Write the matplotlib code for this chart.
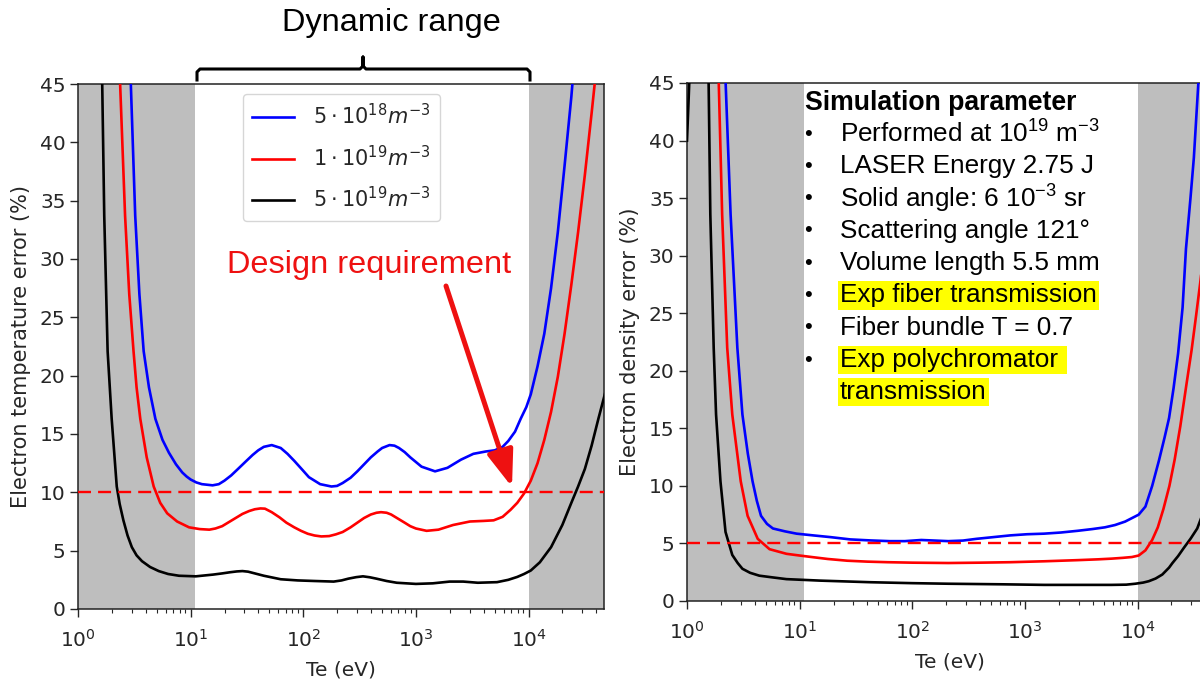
import numpy as np
import matplotlib
matplotlib.use("Agg")
import matplotlib.pyplot as plt
from matplotlib.patches import FancyArrowPatch
from matplotlib.lines import Line2D

plt.rcParams['mathtext.rm'] = 'Liberation Sans'
plt.rcParams['mathtext.it'] = 'Liberation Sans:italic'
plt.rcParams['mathtext.bf'] = 'Liberation Sans:bold'

# ---------------- data (log10 of Te in eV, error in %) ----------------
legend_labels = [r'$5\cdot10^{18}m^{-3}$', r'$1\cdot10^{19}m^{-3}$', r'$5\cdot10^{19}m^{-3}$']
series_colors = ['blue', 'red', 'black']

# Left panel: electron temperature error
te_blue_T = [0.42, 0.469, 0.508, 0.545, 0.583, 0.63, 0.687, 0.75, 0.807, 0.87, 0.926, 0.965, 1.0, 1.05,
             1.1, 1.195, 1.25, 1.3, 1.36, 1.42, 1.49, 1.55, 1.60, 1.65, 1.72, 1.80, 1.86, 1.92, 1.99,
             2.05, 2.15, 2.25, 2.30, 2.35, 2.42, 2.48, 2.54, 2.6, 2.66, 2.7, 2.766, 2.81, 2.85, 2.90,
             2.95, 3.05, 3.17, 3.28, 3.40, 3.51, 3.62, 3.70, 3.77, 3.82, 3.88, 3.93, 3.98, 4.02,
             4.08, 4.14, 4.20, 4.26, 4.32, 4.38, 4.45]
err_blue_T = [55, 45, 33.7, 27, 22.1, 19, 16.3, 14.5, 13.4, 12.4, 11.7, 11.35, 11.1, 10.85,
              10.7, 10.6, 10.7, 11.0, 11.45, 12.0, 12.65, 13.2, 13.6, 13.9, 14.05, 13.8, 13.3, 12.7, 11.95,
              11.3, 10.7, 10.5, 10.55, 10.8, 11.25, 11.8, 12.4, 13.0, 13.5, 13.8, 14.05, 14.0, 13.8, 13.45,
              13.0, 12.2, 11.8, 12.1, 12.8, 13.3, 13.5, 13.6, 13.9, 14.4, 15.2, 16.3, 17.3, 18.4,
              20.8, 23.6, 27.5, 32.3, 38, 43.9, 52]

te_red_T = [0.33, 0.374, 0.418, 0.455, 0.493, 0.52, 0.553, 0.61, 0.672, 0.73, 0.792, 0.88, 0.986, 1.08,
            1.166, 1.22, 1.28, 1.34, 1.40, 1.46, 1.52, 1.57, 1.62, 1.66, 1.72, 1.79, 1.85, 1.92, 1.98,
            2.04, 2.1, 2.16, 2.23, 2.29, 2.35, 2.42, 2.48, 2.54, 2.6, 2.65, 2.69, 2.74, 2.78, 2.84,
            2.9, 2.95, 3.0, 3.095, 3.2, 3.33, 3.48, 3.6, 3.69, 3.77, 3.84, 3.90, 3.96, 4.02, 4.08,
            4.14, 4.20, 4.26, 4.32, 4.38, 4.44, 4.50, 4.56, 4.62]
err_red_T = [56, 45, 33.7, 27, 22.1, 19, 16.3, 13, 10.5, 9.1, 8.2, 7.5, 7.0, 6.85,
             6.8, 6.9, 7.1, 7.45, 7.8, 8.15, 8.4, 8.55, 8.62, 8.6, 8.3, 7.85, 7.4, 7.0, 6.7,
             6.45, 6.3, 6.22, 6.25, 6.4, 6.6, 7.0, 7.4, 7.8, 8.1, 8.25, 8.3, 8.25, 8.1, 7.75,
             7.4, 7.1, 6.9, 6.7, 6.8, 7.2, 7.5, 7.55, 7.6, 7.9, 8.5, 9.1, 9.9, 11.0, 12.5,
             14.5, 16.9, 19.9, 23.6, 27.8, 32.3, 37.2, 42.5, 48]

te_black_T = [0.19, 0.215, 0.233, 0.263, 0.299, 0.344, 0.37, 0.403, 0.44, 0.478, 0.52, 0.568, 0.64,
              0.717, 0.80, 0.897, 1.046, 1.2, 1.28, 1.35, 1.41, 1.46, 1.51, 1.55, 1.65, 1.8, 1.95,
              2.1, 2.27, 2.34, 2.40, 2.47, 2.53, 2.59, 2.65, 2.74, 2.83, 3.0, 3.15, 3.3, 3.42, 3.55,
              3.72, 3.82, 3.9, 3.96, 4.02, 4.1, 4.2, 4.3, 4.38, 4.44, 4.5, 4.56, 4.62, 4.68]
err_black_T = [60, 45, 33.7, 22.1, 16.3, 10.5, 9.0, 7.6, 6.3, 5.3, 4.6, 4.1, 3.6,
               3.25, 3.0, 2.85, 2.8, 2.95, 3.05, 3.15, 3.22, 3.25, 3.2, 3.1, 2.85, 2.55, 2.45,
               2.4, 2.35, 2.45, 2.6, 2.73, 2.8, 2.72, 2.6, 2.4, 2.25, 2.15, 2.2, 2.35, 2.35, 2.25,
               2.3, 2.5, 2.75, 3.0, 3.3, 4.0, 5.3, 7.2, 9.1, 10.5, 12.0, 14.0, 16.3, 18.5]

# Right panel: electron density error
te_blue_n = [0.30, 0.343, 0.387, 0.447, 0.492, 0.54, 0.582, 0.62, 0.657, 0.71, 0.763, 0.87, 0.973,
             1.12, 1.273, 1.45, 1.633, 1.8, 1.934, 2.08, 2.2, 2.32, 2.45, 2.57, 2.72, 2.87, 3.02,
             3.17, 3.32, 3.47, 3.6, 3.71, 3.8, 3.89, 3.95, 4.01, 4.07, 4.13, 4.19, 4.24, 4.28,
             4.32, 4.36, 4.40, 4.43, 4.47, 4.50, 4.54, 4.58]
err_blue_n = [60, 45, 33.6, 22, 16.2, 12.8, 10.4, 8.7, 7.4, 6.7, 6.3, 6.05, 5.85,
              5.7, 5.55, 5.35, 5.26, 5.2, 5.2, 5.3, 5.25, 5.2, 5.25, 5.4, 5.55, 5.7, 5.8,
              5.85, 5.95, 6.1, 6.25, 6.4, 6.6, 6.9, 7.2, 7.5, 8.2, 10.0, 12.2, 14.2, 15.9,
              18.5, 21.5, 25.5, 30.6, 35, 38.5, 45, 52]

te_red_n = [0.24, 0.282, 0.312, 0.357, 0.402, 0.477, 0.538, 0.628, 0.733, 0.883, 1.0, 1.123, 1.25,
            1.423, 1.6, 1.783, 2.0, 2.32, 2.6, 2.87, 3.17, 3.47, 3.65, 3.77, 3.87, 3.95, 4.01,
            4.07, 4.13, 4.18, 4.23, 4.283, 4.33, 4.38, 4.434, 4.48, 4.52, 4.556, 4.59, 4.62, 4.66, 4.70]
err_red_n = [60, 45, 33.6, 22, 16.2, 10.4, 7.4, 5.4, 4.5, 4.1, 3.95, 3.8, 3.65,
             3.5, 3.42, 3.37, 3.33, 3.3, 3.33, 3.37, 3.45, 3.55, 3.62, 3.68, 3.75, 3.82, 3.95,
             4.4, 5.3, 6.4, 8.0, 10.0, 12.3, 15.2, 18.8, 21.8, 24.8, 27.6, 30.5, 33.5, 39, 45]

te_black_n = [0.0, 0.04, 0.10, 0.15, 0.192, 0.207, 0.237, 0.258, 0.297, 0.342, 0.402, 0.45, 0.492,
              0.56, 0.642, 0.76, 0.883, 1.183, 1.633, 2.0, 2.32, 2.8, 3.17, 3.77, 3.90, 3.98, 4.05,
              4.10, 4.16, 4.22, 4.28, 4.31, 4.36, 4.41, 4.47, 4.53, 4.58, 4.62, 4.67, 4.71]
err_black_n = [40, 50, 80, 70, 45, 33.6, 22, 16.2, 10.4, 6.0, 4.0, 3.3, 2.8,
               2.45, 2.2, 2.05, 1.9, 1.77, 1.63, 1.55, 1.5, 1.45, 1.4, 1.4, 1.42, 1.5, 1.6,
               1.72, 1.95, 2.3, 2.9, 3.3, 3.9, 4.6, 5.4, 6.3, 7.6, 9.1, 11.5, 13.5]

req_T = 10      # design requirement, temperature error (%)
req_n = 5       # design requirement, density error (%)
dyn_lo, dyn_hi = 11, 1e4
x_max_exp = 4.67
y_max = 45

sim_title = 'Simulation parameter'
sim_items = [r'Performed at 10$^{\mathrm{19}}$ m$^{\mathrm{-3}}$', 'LASER Energy 2.75 J',
             r'Solid angle: 6 10$^{\mathrm{-3}}$ sr', 'Scattering angle 121°', 'Volume length 5.5 mm',
             'Exp fiber transmission', 'Fiber bundle T = 0.7', 'Exp polychromator ', 'transmission']
sim_highlight = [False, False, False, False, False, True, False, True, True]
sim_bullet = [True, True, True, True, True, True, True, True, False]

# ---------------- figure ----------------
W, H = 1200, 681
fig = plt.figure(figsize=(W / 100, H / 100), dpi=100)


def fx(x):
    return x / W


def fy(y):
    return 1 - y / H


axL = fig.add_axes([fx(78), fy(609), (604 - 78) / W, (609 - 84) / H])
axR = fig.add_axes([fx(687), fy(601), (1213 - 687) / W, (601 - 83) / H])

tick_col = '#262626'
for ax, series, req, ylabel in [
    (axL, [(te_blue_T, err_blue_T), (te_red_T, err_red_T), (te_black_T, err_black_T)], req_T,
     'Electron temperature error (%)'),
    (axR, [(te_blue_n, err_blue_n), (te_red_n, err_red_n), (te_black_n, err_black_n)], req_n,
     'Electron density error (%)'),
]:
    ax.set_xscale('log')
    ax.set_xlim(1, 10 ** x_max_exp)
    ax.set_ylim(0, y_max)
    ax.axvspan(1, dyn_lo, color='#bebebe', lw=0, zorder=0)
    ax.axvspan(dyn_hi, 10 ** x_max_exp, color='#bebebe', lw=0, zorder=0)
    for (lx, ly), c, lab in zip(series, series_colors, legend_labels):
        ax.plot(10 ** np.array(lx), ly, color=c, lw=1.9, label=lab, zorder=3,
                solid_joinstyle='round')
    ax.axhline(req, color='red', lw=1.7, ls=(0, (5.5, 3)), zorder=4)
    ax.set_yticks(np.arange(0, 46, 5))
    ax.tick_params(axis='both', labelsize=14.5, colors=tick_col, length=5.5, width=1.0)
    ax.tick_params(axis='x', which='major', pad=9)
    ax.tick_params(axis='x', which='minor', length=3, width=0.8, colors=tick_col)
    ax.set_xlabel('Te (eV)', fontsize=14.5, color=tick_col, labelpad=7)
    ax.set_ylabel(ylabel, fontsize=15, color=tick_col, labelpad=6)
    for s in ax.spines.values():
        s.set_color('#222222')
        s.set_linewidth(1.1)

leg = axL.legend(loc='upper left', bbox_to_anchor=(fx(243), fy(94)), bbox_transform=fig.transFigure,
                 borderaxespad=0, fontsize=15, handlelength=2.0, labelspacing=0.78,
                 borderpad=0.45, handletextpad=0.9, framealpha=0.8)
for t in leg.get_texts():
    t.set_color(tick_col)

# Dynamic range bracket and label
bx = [197, 197, 200, 360, 363, 363, 363, 366, 527, 530, 530]
by = [80, 72, 69, 69, 66, 57, 66, 69, 69, 72, 80]
fig.add_artist(Line2D([fx(v) for v in bx], [fy(v) for v in by], color='black', lw=2.2,
                      solid_joinstyle='round', transform=fig.transFigure))
fig.text(fx(391), fy(23), 'Dynamic range', ha='center', va='center', fontsize=23.4,
         family='Liberation Sans', color='black')

# Design requirement annotation
fig.text(fx(369), fy(265), 'Design requirement', ha='center', va='center', fontsize=23.4,
         family='Liberation Sans', color='#ee1111')
fig.add_artist(FancyArrowPatch((fx(446), fy(286)), (fx(512), fy(487)), transform=fig.transFigure,
                               arrowstyle='-|>,head_length=1.1,head_width=0.4', mutation_scale=20,
                               color='#ee1111', lw=3.6, shrinkA=0, shrinkB=0))

# Simulation parameter text block
fig.text(fx(805), fy(103), sim_title, ha='left', va='center', fontsize=19.2, weight='bold',
         family='Liberation Sans', color='black')
y0, dy = 134, 32.3
for i, (txt, hl, bul) in enumerate(zip(sim_items, sim_highlight, sim_bullet)):
    yy = y0 + i * dy
    if bul:
        fig.text(fx(808), fy(yy), '•', ha='center', va='center', fontsize=16,
                 family='Liberation Sans', color='black')
    kw = {}
    if hl:
        kw['bbox'] = dict(facecolor='#ffff00', edgecolor='none', pad=1.5)
    fig.text(fx(840), fy(yy), txt, ha='left', va='center', fontsize=18.8, family='Liberation Sans',
             color='black', math_fontfamily='custom', **kw)

fig.savefig('out.png', dpi=100)
